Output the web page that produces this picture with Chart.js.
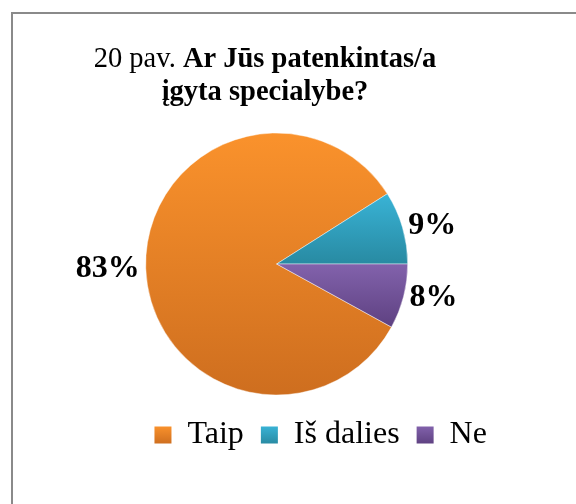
<!DOCTYPE html>
<html>
<head>
<meta charset="utf-8">
<script src="https://cdn.jsdelivr.net/npm/chart.js@4/dist/chart.umd.min.js"></script>
<style>
  html, body { margin: 0; padding: 0; background: #fff; }
  #wrap { position: relative; width: 576px; height: 504px; overflow: hidden; }
  #frame { position: absolute; left: 11px; top: 12px; width: 620px; height: 540px; border: 2px solid #8a8a8a; box-sizing: border-box; }
  #c { position: absolute; left: 0; top: 0; }
</style>
</head>
<body>
<div id="wrap">
  <div id="frame"></div>
  <canvas id="c" width="576" height="504"></canvas>
</div>
<script>
// ---- data ----
const categories = ["Taip", "Iš dalies", "Ne"];
const shares = [83, 9, 8];
const titlePrefix = "20 pav.";
const titleLines = ["Ar Jūs patenkintas/a", "įgyta specialybe?"];

// ---- style ----
const SERIF = "'Liberation Serif', 'Times New Roman', serif";
const topColors = ["#FA922C", "#39B3D6", "#8262AC"];
const bottomColors = ["#CE6E1F", "#288AA2", "#5E4181"];

const sliceGradient = {
  id: 'sliceGradient',
  beforeDatasetsDraw(chart) {
    const ctx = chart.ctx;
    const meta = chart.getDatasetMeta(0);
    meta.data.forEach((arc, i) => {
      const { x, y, startAngle, endAngle, outerRadius } = arc.getProps(['x','y','startAngle','endAngle','outerRadius'], true);
      let minY = y, maxY = y;
      const steps = 60;
      for (let k = 0; k <= steps; k++) {
        const a = startAngle + (endAngle - startAngle) * k / steps;
        const yy = y + outerRadius * Math.sin(a);
        minY = Math.min(minY, yy); maxY = Math.max(maxY, yy);
      }
      const g = ctx.createLinearGradient(0, minY, 0, maxY);
      g.addColorStop(0, topColors[i]);
      g.addColorStop(1, bottomColors[i]);
      arc.options.backgroundColor = g;
    });
  }
};

const titlePlugin = {
  id: 'mixedTitle',
  afterDraw(chart, args, opts) {
    const ctx = chart.ctx;
    ctx.save();
    ctx.fillStyle = '#000';
    ctx.textBaseline = 'alphabetic';
    const normal = `${opts.size}px ${SERIF}`;
    const bold = `bold ${opts.size}px ${SERIF}`;
    ctx.font = normal;
    const pre = titlePrefix + ' ';
    const w1 = ctx.measureText(pre).width;
    ctx.font = bold;
    const w2 = ctx.measureText(titleLines[0]).width;
    let x0 = opts.centerX - (w1 + w2) / 2;
    ctx.font = normal;
    ctx.textAlign = 'left';
    ctx.fillText(pre, x0, opts.baselines[0]);
    ctx.font = bold;
    ctx.fillText(titleLines[0], x0 + w1, opts.baselines[0]);
    for (let i = 1; i < titleLines.length; i++) {
      ctx.textAlign = 'center';
      ctx.fillText(titleLines[i], opts.centerX, opts.baselines[i]);
    }
    ctx.restore();
  }
};

const pctLabels = {
  id: 'pctLabels',
  afterDatasetsDraw(chart, args, opts) {
    const ctx = chart.ctx;
    const meta = chart.getDatasetMeta(0);
    const vals = chart.data.datasets[0].data;
    const total = vals.reduce((a, b) => a + b, 0);
    ctx.save();
    ctx.font = `bold ${opts.size}px ${SERIF}`;
    ctx.fillStyle = '#000';
    ctx.textBaseline = 'middle';
    meta.data.forEach((arc, i) => {
      const { x, y, startAngle, endAngle, outerRadius } = arc.getProps(['x','y','startAngle','endAngle','outerRadius'], true);
      const mid = (startAngle + endAngle) / 2;
      const r = outerRadius + opts.gap;
      const lx = x + r * Math.cos(mid);
      const ly = y + r * Math.sin(mid);
      ctx.textAlign = Math.cos(mid) >= 0 ? 'left' : 'right';
      ctx.fillText(Math.round(vals[i] / total * 100) + '%', lx, ly);
    });
    ctx.restore();
  }
};

const legendShift = {
  id: 'legendShift',
  afterLayout(chart, args, opts) {
    const lg = chart.legend;
    if (lg) { lg.left += opts.dx; lg.right += opts.dx; }
  }
};

new Chart(document.getElementById('c'), {
  type: 'pie',
  data: {
    labels: categories,
    datasets: [{
      data: shares,
      backgroundColor: topColors,
      borderColor: 'rgba(255,255,255,0.55)',
      borderWidth: 0.8,
      radius: 131,
      rotation: 118.8
    }]
  },
  options: {
    responsive: false,
    animation: false,
    events: [],
    layout: { padding: { top: 126, bottom: 43, left: 0, right: 22.6 } },
    plugins: {
      title: { display: false },
      tooltip: { enabled: false },
      legend: {
        display: true,
        position: 'bottom',
        labels: {
          boxWidth: 17,
          boxHeight: 17,
          padding: 17,
          color: '#000',
          font: { family: SERIF, size: 32 },
          generateLabels(chart) {
            return chart.data.labels.map((l, i) => ({
              text: l,
              fillStyle: (() => {
                const g = chart.ctx.createLinearGradient(0, 426, 0, 444);
                g.addColorStop(0, topColors[i]);
                g.addColorStop(1, bottomColors[i]);
                return g;
              })(),
              strokeStyle: 'rgba(0,0,0,0)',
              lineWidth: 0,
              hidden: false,
              index: i
            }));
          }
        }
      },
      mixedTitle: { size: 28.5, centerX: 265, baselines: [67, 100] },
      pctLabels: { size: 32, gap: 6 },
      legendShift: { dx: 44 }
    }
  },
  plugins: [sliceGradient, titlePlugin, pctLabels, legendShift]
});
</script>
</body>
</html>
